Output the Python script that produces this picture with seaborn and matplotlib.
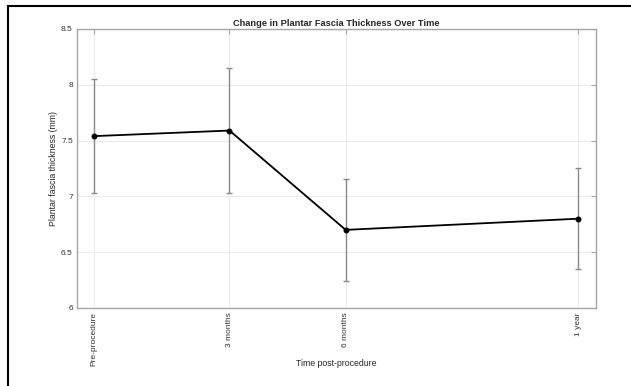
import numpy as np
import pandas as pd
import matplotlib
matplotlib.use("Agg")
import matplotlib.pyplot as plt
import seaborn as sns
from matplotlib.patches import Rectangle

# Data
labels = ["Pre-procedure", "3 months", "6 months", "1 year"]
weeks = [0, 14, 26, 50]
means = [7.54, 7.59, 6.70, 6.80]
errs = [0.51, 0.56, 0.46, 0.45]

df = pd.DataFrame({"weeks": weeks, "thickness": means, "err": errs})

sns.set_style("white")
plt.rcParams["font.family"] = ["Liberation Sans", "DejaVu Sans"]

fig = plt.figure(figsize=(6.31, 3.86), dpi=100)
ax = fig.add_axes([0.122, 0.2021, 0.8225, 0.7228])

# outer frame (cropped at right and bottom)
fig.patches.append(Rectangle((0.0119, -0.1), 1.2, 0.9845 + 0.1, transform=fig.transFigure,
                             fill=False, edgecolor="black", linewidth=1.5))

ax.errorbar(df["weeks"], df["thickness"], yerr=df["err"], fmt="none",
            ecolor="#8a8a8a", elinewidth=1, capsize=2, capthick=1, zorder=2)
sns.lineplot(data=df, x="weeks", y="thickness", ax=ax, color="black",
             linewidth=1.3, marker="o", markersize=3.5, markeredgecolor="black", zorder=3)

ax.set_xlim(-1.75, 51.85)
ax.set_ylim(6, 8.5)
ax.set_xticks(weeks)
ax.set_xticklabels(labels, rotation=90)
ax.set_yticks([6, 6.5, 7, 7.5, 8, 8.5])
ax.set_yticklabels(["6", "6.5", "7", "7.5", "8", "8.5"])

ax.grid(True, color="#ebebeb", linewidth=0.8)
ax.set_axisbelow(True)
for s in ax.spines.values():
    s.set_color("#a6a6a6")
    s.set_linewidth(1)
ax.tick_params(direction="in", length=3.5, width=0.8, color="#a6a6a6",
               top=True, right=True, labelsize=6, labelcolor="#333333", pad=3)

ax.set_title("Change in Plantar Fascia Thickness Over Time", fontsize=6.7,
             fontweight="bold", pad=2)
ax.set_xlabel("Time post-procedure", fontsize=6.3, color="#262626")
ax.set_ylabel("Plantar fascia thickness (mm)", fontsize=6.3, color="#262626")
ax.xaxis.set_label_coords(0.5, -0.183)
ax.yaxis.set_label_coords(-0.036, 0.5)

fig.savefig("out.png", dpi=100)
